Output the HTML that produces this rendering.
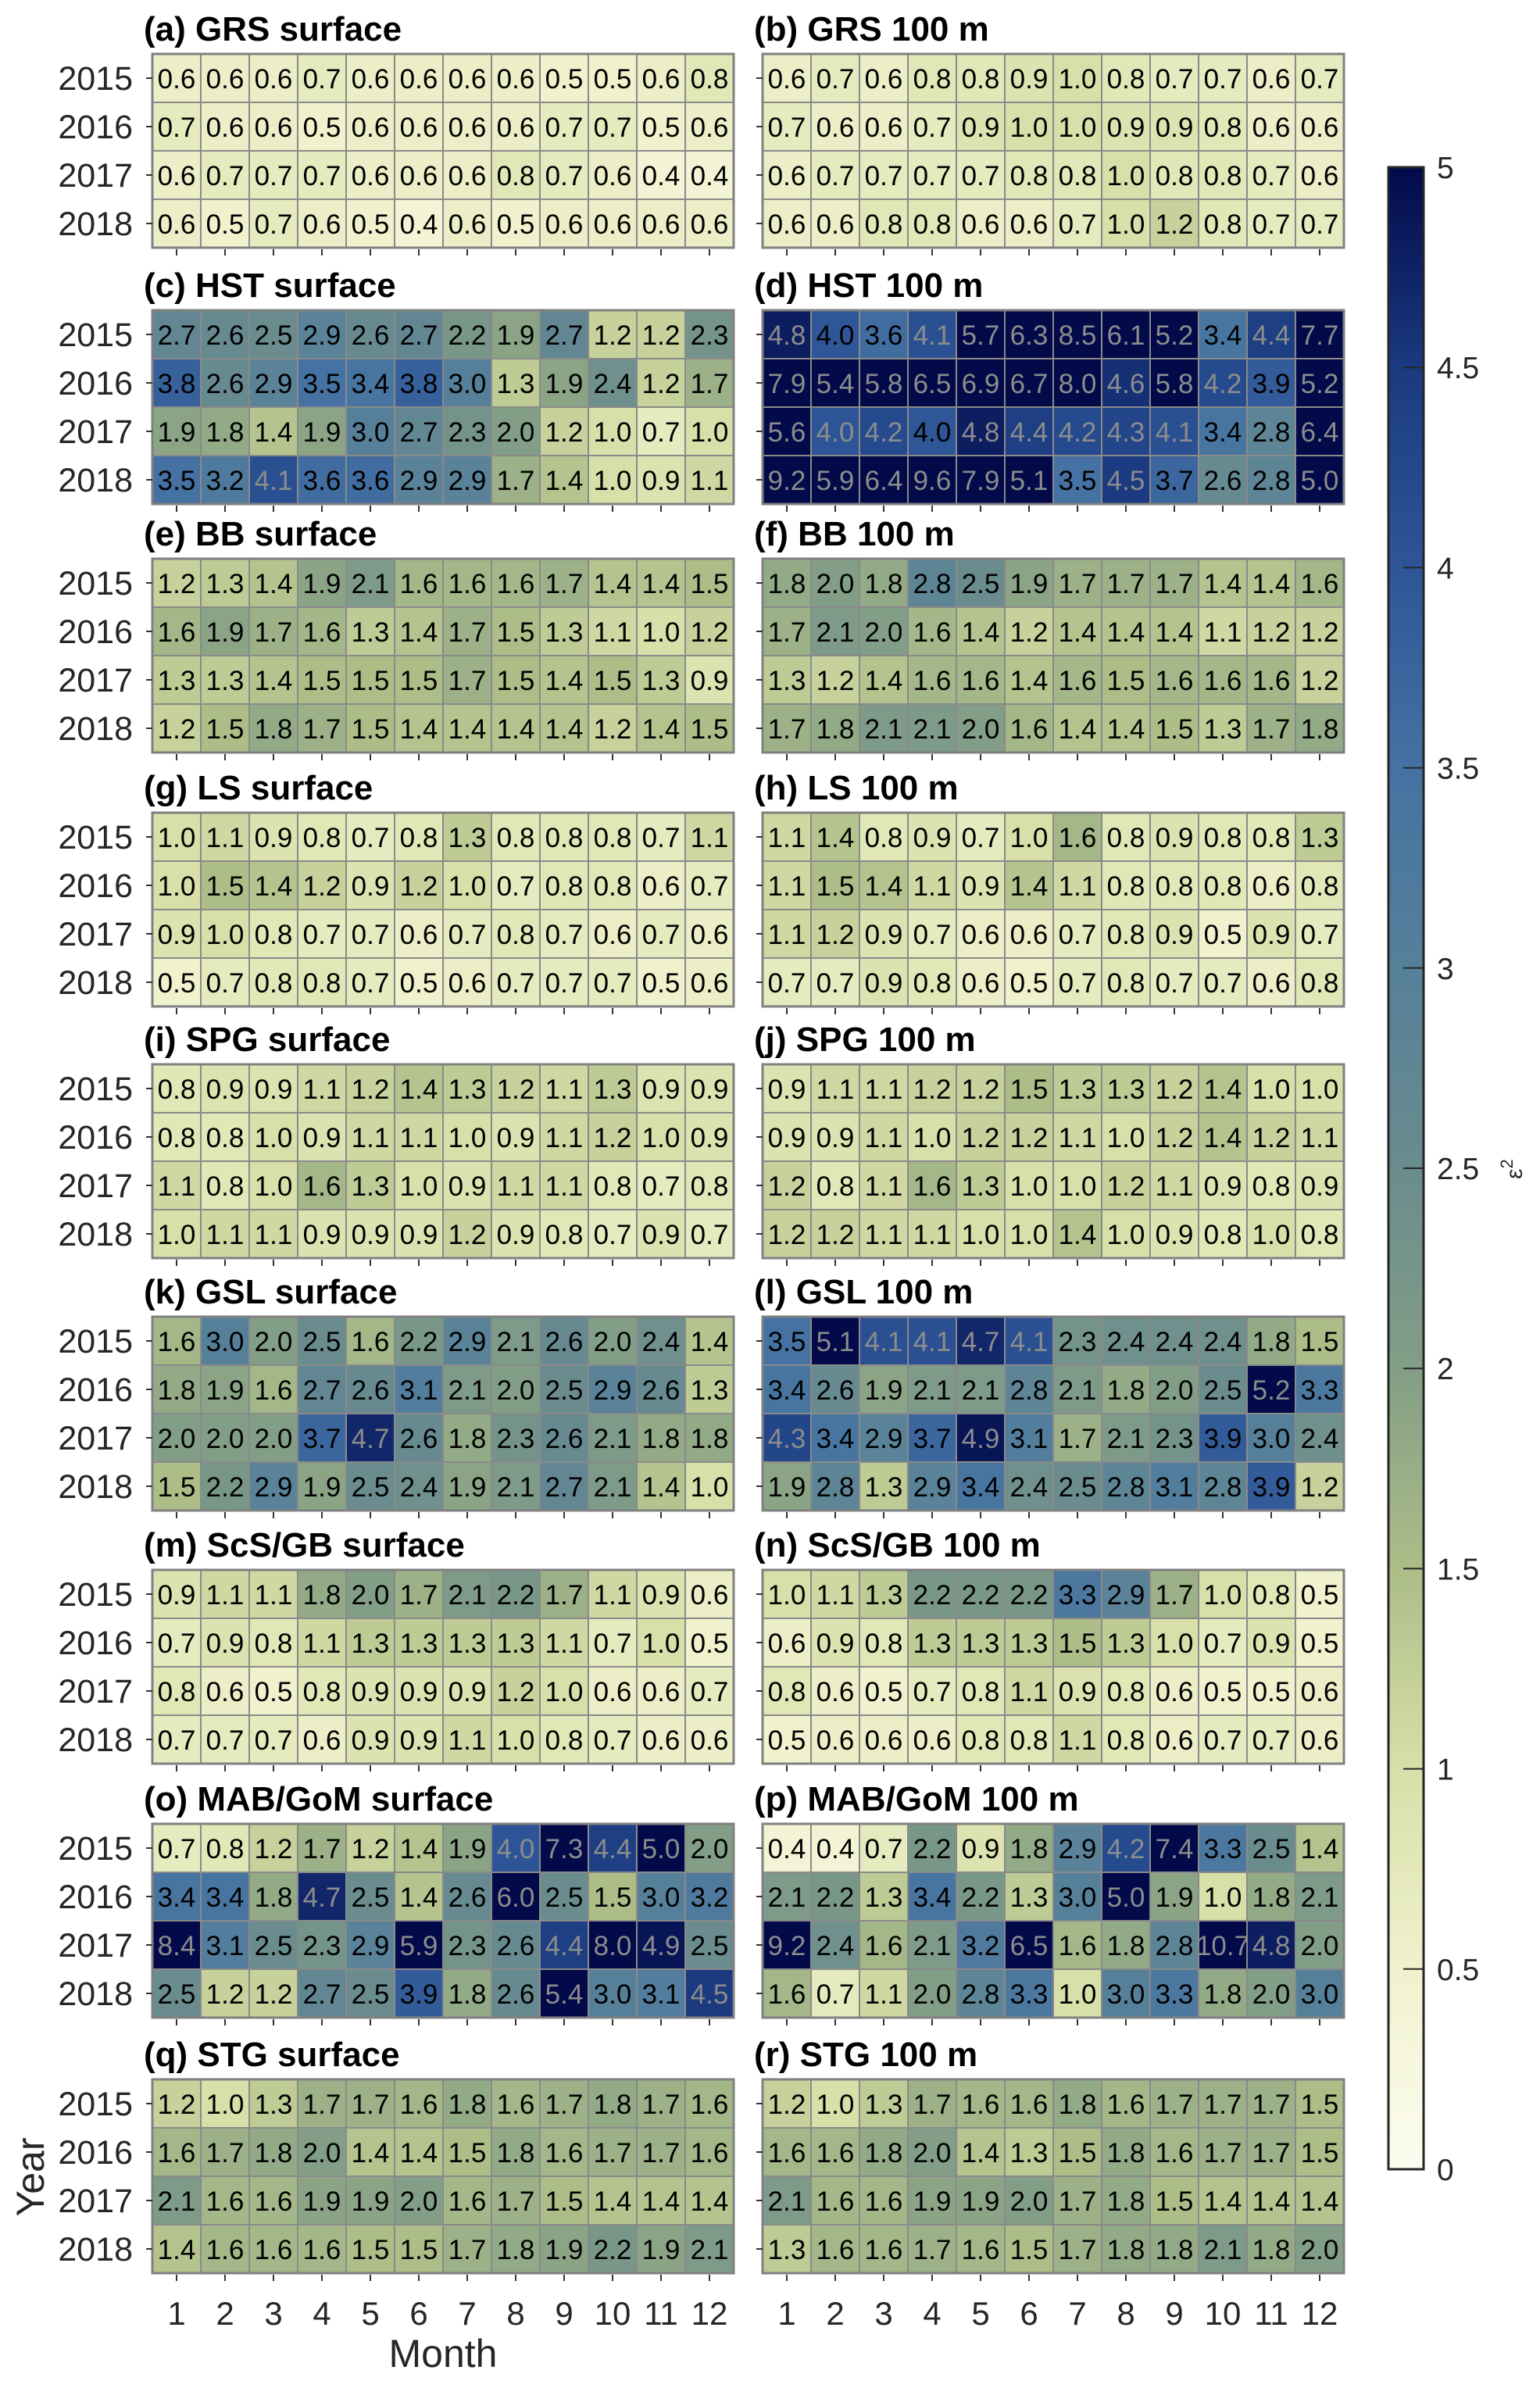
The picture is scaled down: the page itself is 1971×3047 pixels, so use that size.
<!DOCTYPE html>
<html><head><meta charset="utf-8">
<style>
html,body{margin:0;padding:0;background:#fff;}
svg{display:block;font-family:"Liberation Sans",Arial,sans-serif;}
</style></head>
<body>
<svg id="fig" width="1971" height="3047" viewBox="0 0 1971 3047" xmlns="http://www.w3.org/2000/svg"></svg>
<script>
const years = ["2015","2016","2017","2018"];
const months = ["1","2","3","4","5","6","7","8","9","10","11","12"];
const titles = ["(a) GRS surface","(b) GRS 100 m","(c) HST surface","(d) HST 100 m","(e) BB surface","(f) BB 100 m","(g) LS surface","(h) LS 100 m","(i) SPG surface","(j) SPG 100 m","(k) GSL surface","(l) GSL 100 m","(m) ScS/GB surface","(n) ScS/GB 100 m","(o) MAB/GoM surface","(p) MAB/GoM 100 m","(q) STG surface","(r) STG 100 m"];
const cbTicks = [0,0.5,1,1.5,2,2.5,3,3.5,4,4.5,5];
const cbTickLabels = ["0","0.5","1","1.5","2","2.5","3","3.5","4","4.5","5"];
const vA = [[0.6,0.6,0.6,0.7,0.6,0.6,0.6,0.6,0.5,0.5,0.6,0.8],[0.7,0.6,0.6,0.5,0.6,0.6,0.6,0.6,0.7,0.7,0.5,0.6],[0.6,0.7,0.7,0.7,0.6,0.6,0.6,0.8,0.7,0.6,0.4,0.4],[0.6,0.5,0.7,0.6,0.5,0.4,0.6,0.5,0.6,0.6,0.6,0.6]];
const vB = [[0.6,0.7,0.6,0.8,0.8,0.9,1.0,0.8,0.7,0.7,0.6,0.7],[0.7,0.6,0.6,0.7,0.9,1.0,1.0,0.9,0.9,0.8,0.6,0.6],[0.6,0.7,0.7,0.7,0.7,0.8,0.8,1.0,0.8,0.8,0.7,0.6],[0.6,0.6,0.8,0.8,0.6,0.6,0.7,1.0,1.2,0.8,0.7,0.7]];
const vC = [[2.7,2.6,2.5,2.9,2.6,2.7,2.2,1.9,2.7,1.2,1.2,2.3],[3.8,2.6,2.9,3.5,3.4,3.8,3.0,1.3,1.9,2.4,1.2,1.7],[1.9,1.8,1.4,1.9,3.0,2.7,2.3,2.0,1.2,1.0,0.7,1.0],[3.5,3.2,4.1,3.6,3.6,2.9,2.9,1.7,1.4,1.0,0.9,1.1]];
const vD = [[4.8,3.98,3.6,4.1,5.7,6.3,8.5,6.1,5.2,3.4,4.4,7.7],[7.9,5.4,5.8,6.5,6.9,6.7,8.0,4.6,5.8,4.2,3.9,5.2],[5.6,4.02,4.2,3.98,4.8,4.4,4.2,4.3,4.1,3.4,2.8,6.4],[9.2,5.9,6.4,9.6,7.9,5.1,3.5,4.5,3.7,2.6,2.8,5.0]];
const vE = [[1.2,1.3,1.4,1.9,2.1,1.6,1.6,1.6,1.7,1.4,1.4,1.5],[1.6,1.9,1.7,1.6,1.3,1.4,1.7,1.5,1.3,1.1,1.0,1.2],[1.3,1.3,1.4,1.5,1.5,1.5,1.7,1.5,1.4,1.5,1.3,0.9],[1.2,1.5,1.8,1.7,1.5,1.4,1.4,1.4,1.4,1.2,1.4,1.5]];
const vF = [[1.8,2.0,1.8,2.8,2.5,1.9,1.7,1.7,1.7,1.4,1.4,1.6],[1.7,2.1,2.0,1.6,1.4,1.2,1.4,1.4,1.4,1.1,1.2,1.2],[1.3,1.2,1.4,1.6,1.6,1.4,1.6,1.5,1.6,1.6,1.6,1.2],[1.7,1.8,2.1,2.1,2.0,1.6,1.4,1.4,1.5,1.3,1.7,1.8]];
const vG = [[1.0,1.1,0.9,0.8,0.7,0.8,1.3,0.8,0.8,0.8,0.7,1.1],[1.0,1.5,1.4,1.2,0.9,1.2,1.0,0.7,0.8,0.8,0.6,0.7],[0.9,1.0,0.8,0.7,0.7,0.6,0.7,0.8,0.7,0.6,0.7,0.6],[0.5,0.7,0.8,0.8,0.7,0.5,0.6,0.7,0.7,0.7,0.5,0.6]];
const vH = [[1.1,1.4,0.8,0.9,0.7,1.0,1.6,0.8,0.9,0.8,0.8,1.3],[1.1,1.5,1.4,1.1,0.9,1.4,1.1,0.8,0.8,0.8,0.6,0.8],[1.1,1.2,0.9,0.7,0.6,0.6,0.7,0.8,0.9,0.5,0.9,0.7],[0.7,0.7,0.9,0.8,0.6,0.5,0.7,0.8,0.7,0.7,0.6,0.8]];
const vI = [[0.8,0.9,0.9,1.1,1.2,1.4,1.3,1.2,1.1,1.3,0.9,0.9],[0.8,0.8,1.0,0.9,1.1,1.1,1.0,0.9,1.1,1.2,1.0,0.9],[1.1,0.8,1.0,1.6,1.3,1.0,0.9,1.1,1.1,0.8,0.7,0.8],[1.0,1.1,1.1,0.9,0.9,0.9,1.2,0.9,0.8,0.7,0.9,0.7]];
const vJ = [[0.9,1.1,1.1,1.2,1.2,1.5,1.3,1.3,1.2,1.4,1.0,1.0],[0.9,0.9,1.1,1.0,1.2,1.2,1.1,1.0,1.2,1.4,1.2,1.1],[1.2,0.8,1.1,1.6,1.3,1.0,1.0,1.2,1.1,0.9,0.8,0.9],[1.2,1.2,1.1,1.1,1.0,1.0,1.4,1.0,0.9,0.8,1.0,0.8]];
const vK = [[1.6,3.0,2.0,2.5,1.6,2.2,2.9,2.1,2.6,2.0,2.4,1.4],[1.8,1.9,1.6,2.7,2.6,3.1,2.1,2.0,2.5,2.9,2.6,1.3],[2.0,2.0,2.0,3.7,4.7,2.6,1.8,2.3,2.6,2.1,1.8,1.8],[1.5,2.2,2.9,1.9,2.5,2.4,1.9,2.1,2.7,2.1,1.4,1.0]];
const vL = [[3.5,5.1,4.1,4.1,4.7,4.1,2.3,2.4,2.4,2.4,1.8,1.5],[3.4,2.6,1.9,2.1,2.1,2.8,2.1,1.8,2.0,2.5,5.2,3.3],[4.3,3.4,2.9,3.7,4.9,3.1,1.7,2.1,2.3,3.9,3.0,2.4],[1.9,2.8,1.3,2.9,3.4,2.4,2.5,2.8,3.1,2.8,3.9,1.2]];
const vM = [[0.9,1.1,1.1,1.8,2.0,1.7,2.1,2.2,1.7,1.1,0.9,0.6],[0.7,0.9,0.8,1.1,1.3,1.3,1.3,1.3,1.1,0.7,1.0,0.5],[0.8,0.6,0.5,0.8,0.9,0.9,0.9,1.2,1.0,0.6,0.6,0.7],[0.7,0.7,0.7,0.6,0.9,0.9,1.1,1.0,0.8,0.7,0.6,0.6]];
const vN = [[1.0,1.1,1.3,2.2,2.2,2.2,3.3,2.9,1.7,1.0,0.8,0.5],[0.6,0.9,0.8,1.3,1.3,1.3,1.5,1.3,1.0,0.7,0.9,0.5],[0.8,0.6,0.5,0.7,0.8,1.1,0.9,0.8,0.6,0.5,0.5,0.6],[0.5,0.6,0.6,0.6,0.8,0.8,1.1,0.8,0.6,0.7,0.7,0.6]];
const vO = [[0.7,0.8,1.2,1.7,1.2,1.4,1.9,4.02,7.3,4.4,5.0,2.0],[3.4,3.4,1.8,4.7,2.5,1.4,2.6,6.0,2.5,1.5,3.0,3.2],[8.4,3.1,2.5,2.3,2.9,5.9,2.3,2.6,4.4,8.0,4.9,2.5],[2.5,1.2,1.2,2.7,2.5,3.9,1.8,2.6,5.4,3.0,3.1,4.5]];
const vP = [[0.4,0.4,0.7,2.2,0.9,1.8,2.9,4.2,7.4,3.3,2.5,1.4],[2.1,2.2,1.3,3.4,2.2,1.3,3.0,5.0,1.9,1.0,1.8,2.1],[9.2,2.4,1.6,2.1,3.2,6.5,1.6,1.8,2.8,10.7,4.8,2.0],[1.6,0.7,1.1,2.0,2.8,3.3,1.0,3.0,3.3,1.8,2.0,3.0]];
const vQ = [[1.2,1.0,1.3,1.7,1.7,1.6,1.8,1.6,1.7,1.8,1.7,1.6],[1.6,1.7,1.8,2.0,1.4,1.4,1.5,1.8,1.6,1.7,1.7,1.6],[2.1,1.6,1.6,1.9,1.9,2.0,1.6,1.7,1.5,1.4,1.4,1.4],[1.4,1.6,1.6,1.6,1.5,1.5,1.7,1.8,1.9,2.2,1.9,2.1]];
const vR = [[1.2,1.0,1.3,1.7,1.6,1.6,1.8,1.6,1.7,1.7,1.7,1.5],[1.6,1.6,1.8,2.0,1.4,1.3,1.5,1.8,1.6,1.7,1.7,1.5],[2.1,1.6,1.6,1.9,1.9,2.0,1.7,1.8,1.5,1.4,1.4,1.4],[1.3,1.6,1.6,1.7,1.6,1.5,1.7,1.8,1.8,2.1,1.8,2.0]];
const panelValues = [vA,vB,vC,vD,vE,vF,vG,vH,vI,vJ,vK,vL,vM,vN,vO,vP,vQ,vR];

const NS = "http://www.w3.org/2000/svg";
const svg = document.getElementById('fig');
function mk(tag, attrs, parent){ const e=document.createElementNS(NS,tag); for(const k in attrs) e.setAttribute(k,attrs[k]); (parent||svg).appendChild(e); return e; }

const cmapStops = [[0,[253,253,240]],[0.5,[240,242,206]],[1,[216,223,168]],[1.5,[172,189,136]],[2,[131,158,134]],[2.5,[106,140,142]],[3,[86,128,154]],[3.5,[69,114,162]],[4,[46,85,151]],[4.5,[27,58,128]],[5,[2,10,74]]];
function cmap(v){
  v=Math.max(0,Math.min(5,v));
  for(let i=1;i<cmapStops.length;i++){
    if(v<=cmapStops[i][0]){
      const a=cmapStops[i-1],b=cmapStops[i],t=(v-a[0])/(b[0]-a[0]);
      const c=a[1].map((x,j)=>Math.round(x+(b[1][j]-x)*t));
      return `rgb(${c[0]},${c[1]},${c[2]})`;
    }
  }
  return 'rgb(2,10,74)';
}

const panelTops = [69,397,715,1040,1362,1685,2009,2334,2661];
const colLefts = [195,976];
const cellW = 62, cellH = 62;
function xScale(p, m){ return colLefts[p%2] + m*cellW; }
function yScale(p, r){ return panelTops[Math.floor(p/2)] + r*cellH; }

panelValues.forEach((vals,p)=>{
  const g = mk('g',{});
  
  
  const x0 = xScale(p,0), y0 = yScale(p,0);
  const t = mk('text',{x:x0-11,y:y0-17,'font-size':44,'font-weight':'bold',fill:'#000'},g);
  t.textContent = titles[p];
  
  
  vals.forEach((row,r)=>{
    row.forEach((v,m)=>{
      const rc = mk('rect',{x:xScale(p,m),y:yScale(p,r),width:cellW,height:cellH,fill:cmap(v),stroke:'#8a8a8a','stroke-width':2},g);
      
      
      const tx = mk('text',{x:xScale(p,m)+cellW/2,y:yScale(p,r)+cellH/2+13,'font-size':35,'text-anchor':'middle',fill:(v>=4?'#8c8c8c':'#000')},g);
      tx.textContent = v.toFixed(1);
      
      
    });
  });
  const fr = mk('rect',{x:x0,y:y0,width:cellW*12,height:cellH*4,fill:'none',stroke:'#808080','stroke-width':3},g);
  
  
  years.forEach((yl,r)=>{
    const cy = yScale(p,r)+cellH/2;
    mk('line',{x1:x0-8,x2:x0,y1:cy,y2:cy,stroke:'#333','stroke-width':2},g);
    if(p%2===0){
      const yt = mk('text',{x:x0-25,y:cy+15,'font-size':43,'text-anchor':'end',fill:'#262626'},g);
      yt.textContent = yl;
      
      
    }
  });
  months.forEach((ml,m)=>{
    const cx = xScale(p,m)+cellW/2;
    mk('line',{x1:cx,x2:cx,y1:y0+cellH*4+2,y2:y0+cellH*4+10,stroke:'#333','stroke-width':2},g);
    if(p>=16){
      const mt = mk('text',{x:cx,y:2975,'font-size':42,'text-anchor':'middle',fill:'#262626'},g);
      mt.textContent = ml;
      
      
    }
  });
});

const mx = mk('text',{x:567,y:3029,'font-size':50,'text-anchor':'middle',fill:'#262626'});
mx.textContent='Month';


const yy = mk('text',{x:0,y:0,'font-size':50,'text-anchor':'middle',fill:'#262626',transform:'translate(56,2786) rotate(-90)'});
yy.textContent='Year';



const cbX=1777, cbW=45, cbTop=214, cbBot=2776, cbMax=5;
function cbY(v){ return cbBot - (v/cbMax)*(cbBot-cbTop); }
const defs = mk('defs',{});
const grad = mk('linearGradient',{id:'cbgrad',x1:0,y1:1,x2:0,y2:0},defs);
cmapStops.forEach(s=>{ mk('stop',{offset:(s[0]/cbMax),'stop-color':cmap(s[0])},grad); });
const cb = mk('rect',{x:cbX,y:cbTop,width:cbW,height:cbBot-cbTop,fill:'url(#cbgrad)',stroke:'#262626','stroke-width':3});


cbTicks.forEach((v,i)=>{
  const y=cbY(v);
  if(i>0 && i<cbTicks.length-1) mk('line',{x1:cbX+cbW-26,x2:cbX+cbW,y1:y,y2:y,stroke:'#262626','stroke-width':2});
  const tl = mk('text',{x:1839,y:y+14,'font-size':39,fill:'#262626'});
  tl.textContent = cbTickLabels[i];
  
  
});
const cbl = mk('text',{x:0,y:0,'font-size':30,'text-anchor':'middle',fill:'#262626',transform:'translate(1948,1496) rotate(-90)'});
cbl.innerHTML = 'ε<tspan dy="-12" font-size="22">2</tspan>';


</script>
</body></html>
